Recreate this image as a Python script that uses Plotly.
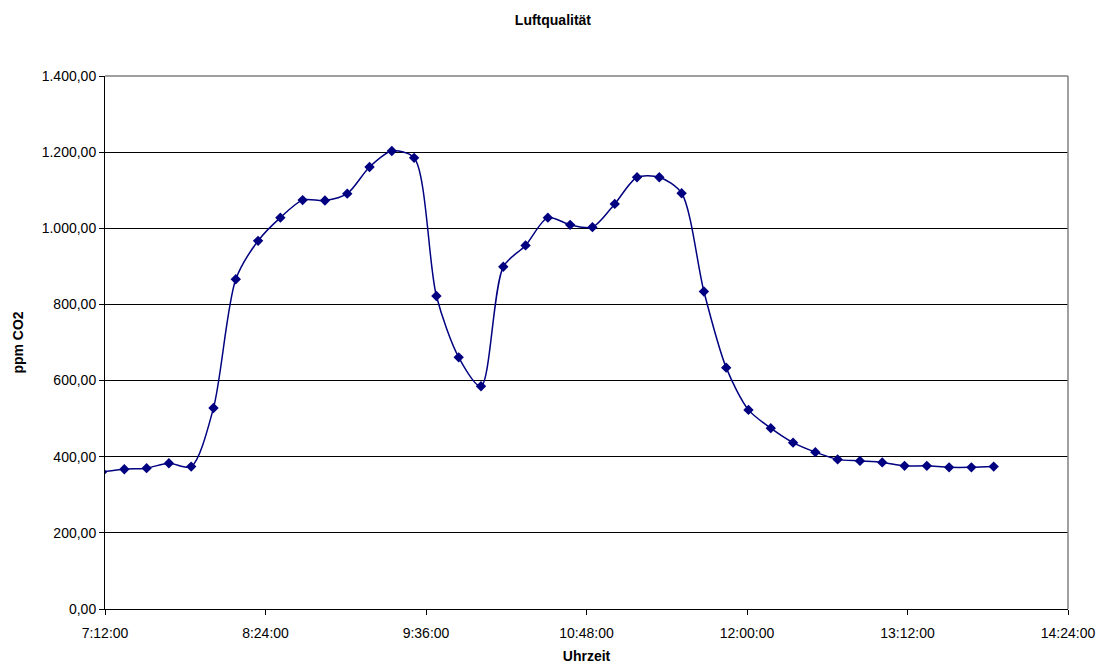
import plotly.graph_objects as go

times = ["07:10:40", "07:20:40", "07:30:40", "07:40:40", "07:50:40", "08:00:40", "08:10:40",
         "08:20:40", "08:30:40", "08:40:40", "08:50:40", "09:00:40", "09:10:40", "09:20:40",
         "09:30:40", "09:40:40", "09:50:40", "10:00:40", "10:10:40", "10:20:40", "10:30:40",
         "10:40:40", "10:50:40", "11:00:40", "11:10:40", "11:20:40", "11:30:40", "11:40:40",
         "11:50:40", "12:00:40", "12:10:40", "12:20:40", "12:30:40", "12:40:40", "12:50:40",
         "13:00:40", "13:10:40", "13:20:40", "13:30:40", "13:40:40", "13:50:40"]
co2 = [360, 367, 370, 383, 374, 528, 866, 967, 1028, 1074, 1073, 1091, 1161, 1203, 1185,
       822, 661, 585, 899, 955, 1028, 1009, 1003, 1064, 1134, 1134, 1092, 834, 634, 523,
       475, 437, 412, 393, 389, 385, 376, 376, 372, 372, 374]

day = "2000-01-01 "
x = [day + t for t in times]

fig = go.Figure()
fig.add_trace(go.Scatter(
    x=x, y=co2, mode="lines+markers",
    line=dict(color="#000080", width=1.5, shape="spline", smoothing=0.8),
    marker=dict(symbol="diamond", size=8, color="#000080"),
    cliponaxis=True, showlegend=False,
))

font = "Liberation Sans, Arial, sans-serif"
fig.update_layout(
    width=1098, height=664,
    margin=dict(l=105, r=30, t=76, b=55, autoexpand=False),
    paper_bgcolor="white", plot_bgcolor="white",
    separators=",.",
    font=dict(family=font, size=14, color="black"),
    title=dict(text="<b>Luftqualität</b>", x=0.5036, xanchor="center", y=0.97, yanchor="middle",
               font=dict(size=14, family=font, color="black")),
    xaxis=dict(
        type="date",
        range=[day + "07:12:00", day + "14:24:00"],
        tick0=day + "07:12:00", dtick=72 * 60 * 1000,
        tickformat="%-H:%M:%S",
        showgrid=False, zeroline=False,
        showline=True, linecolor="black", linewidth=1,
        ticks="outside", ticklen=5, tickcolor="black",
        ticklabelstandoff=6,
        ticklabeloverflow="allow",
        automargin=False,
        tickfont=dict(size=14, family=font),
        title=dict(text="<b>Uhrzeit</b>", font=dict(size=14, family=font), standoff=16),
    ),
    yaxis=dict(
        range=[0, 1400], dtick=200, tickformat=",.2f",
        showgrid=True, gridcolor="black", gridwidth=1,
        zeroline=False,
        showline=True, linecolor="black", linewidth=1,
        ticks="outside", ticklen=5, tickcolor="black",
        automargin=False,
        tickfont=dict(size=14, family=font),
        title=dict(text="<b>ppm CO2</b>", font=dict(size=14, family=font), standoff=14),
    ),
    shapes=[
        dict(type="line", xref="paper", yref="paper", x0=0, x1=1, y0=1, y1=1,
             line=dict(color="#808080", width=1.5), layer="above"),
        dict(type="line", xref="paper", yref="paper", x0=1, x1=1, y0=0, y1=1,
             line=dict(color="#808080", width=1.5), layer="above"),
    ],
)

fig.write_html("out.html", config={"displayModeBar": False},
               post_script="document.body.style.margin='0';")
